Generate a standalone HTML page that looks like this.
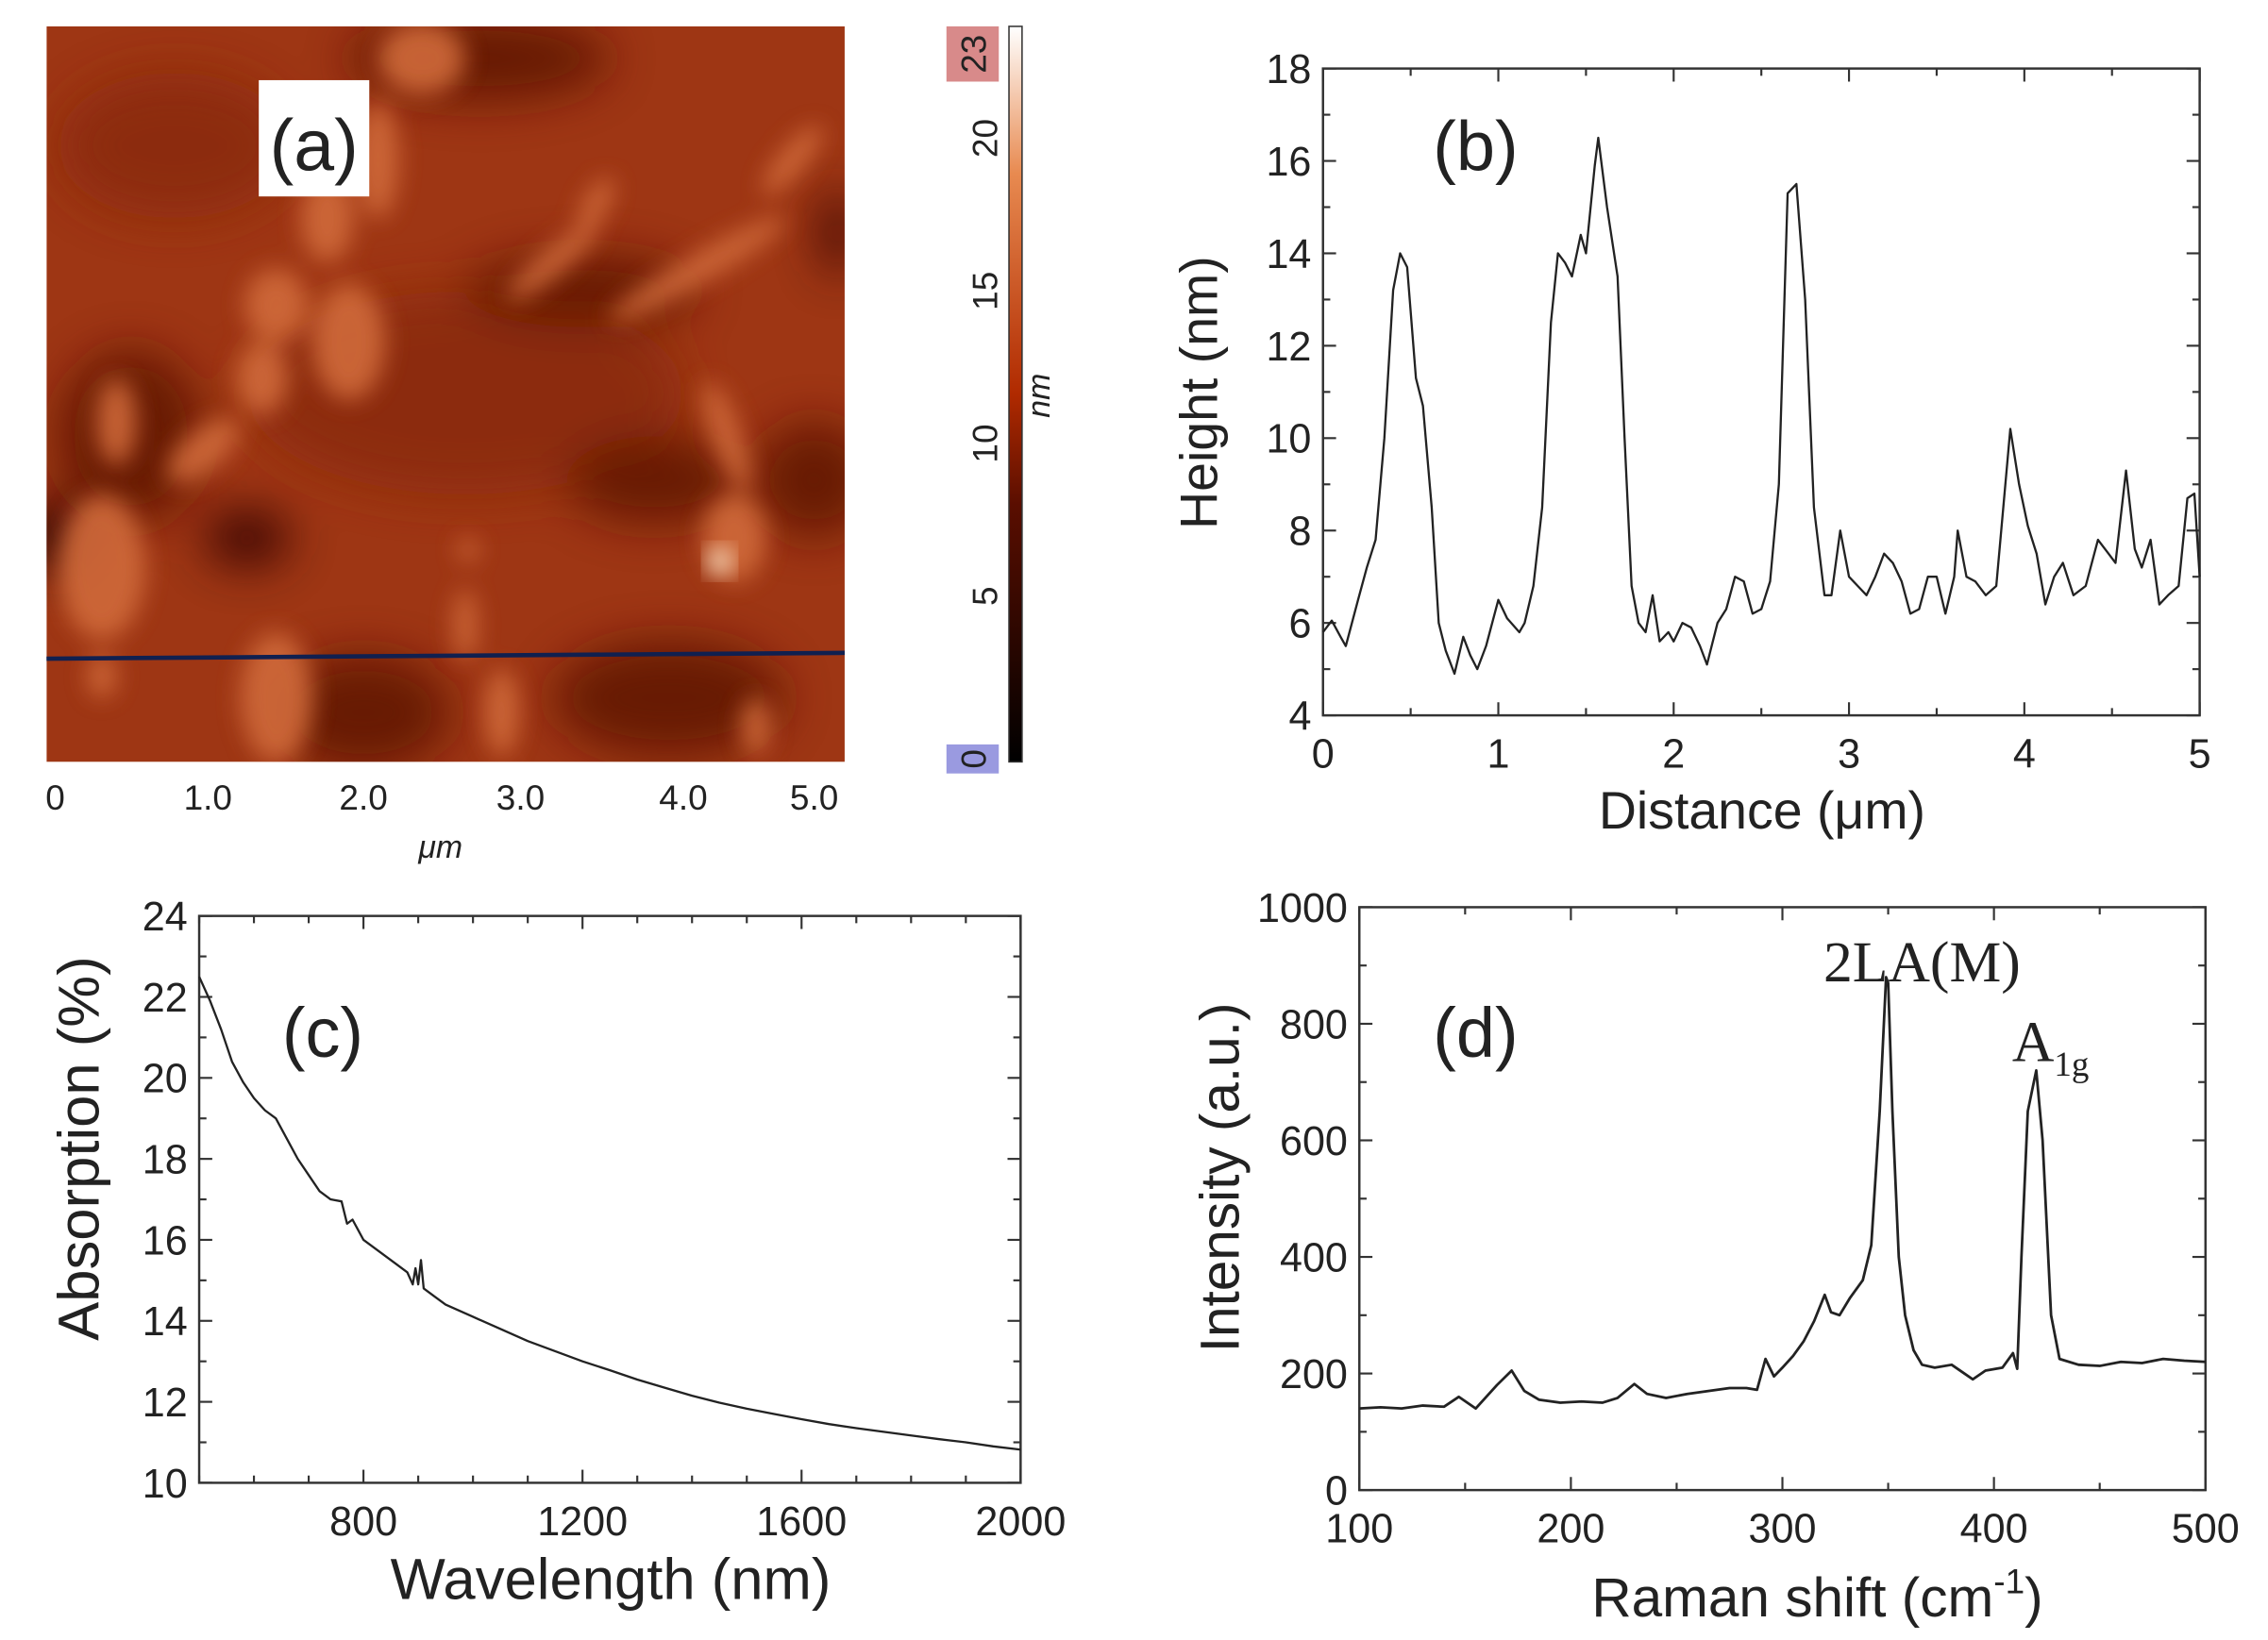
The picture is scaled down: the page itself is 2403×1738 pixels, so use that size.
<!DOCTYPE html>
<html><head><meta charset="utf-8">
<style>
html,body{margin:0;padding:0;background:#fff;}
svg{display:block;}
text{font-family:"Liberation Sans",sans-serif;fill:#222;}
</style></head>
<body>
<svg id="fig" width="2403" height="1738" viewBox="0 0 1560 1128" xmlns="http://www.w3.org/2000/svg">
<defs>
<filter id="blur6" x="-30%" y="-30%" width="160%" height="160%"><feGaussianBlur stdDeviation="8"/></filter>
<filter id="blur12" x="-30%" y="-30%" width="160%" height="160%"><feGaussianBlur stdDeviation="16"/></filter>
<linearGradient id="cbar" x1="0" y1="1" x2="0" y2="0">
<stop offset="0" stop-color="#000"/><stop offset="0.35" stop-color="#5a0e00"/><stop offset="0.5" stop-color="#b02a00"/><stop offset="0.8" stop-color="#e88a50"/><stop offset="1" stop-color="#fff"/>
</linearGradient>
<clipPath id="afmclip"><rect x="32" y="18" width="549" height="506"/></clipPath>
</defs>

<g>
<g clip-path="url(#afmclip)">
<rect x="32" y="18" width="549" height="506" fill="#9e3614"/>
<g filter="url(#blur12)" fill="#5e1404" opacity="0.85">
<ellipse cx="330" cy="40" rx="90" ry="30"/><ellipse cx="320" cy="270" rx="150" ry="70" fill="#8a2c0c"/>
<ellipse cx="90" cy="300" rx="50" ry="60"/><ellipse cx="40" cy="370" rx="25" ry="25" fill="#200000"/>
<ellipse cx="170" cy="370" rx="30" ry="20" fill="#300500"/><ellipse cx="450" cy="330" rx="60" ry="30"/>
<ellipse cx="560" cy="330" rx="40" ry="40"/><ellipse cx="250" cy="490" rx="60" ry="40"/>
<ellipse cx="460" cy="480" rx="80" ry="40"/><ellipse cx="400" cy="200" rx="80" ry="25"/>
<ellipse cx="576" cy="160" rx="12" ry="30" fill="#300500"/>
<ellipse cx="120" cy="100" rx="80" ry="50" fill="#8a2c0c"/>
</g>
<g filter="url(#blur6)" fill="#d06a3a" opacity="0.9">
<ellipse cx="290" cy="40" rx="30" ry="25"/><ellipse cx="260" cy="110" rx="14" ry="40"/>
<ellipse cx="225" cy="150" rx="18" ry="30"/><ellipse cx="190" cy="210" rx="22" ry="25"/>
<ellipse cx="240" cy="235" rx="25" ry="40"/><ellipse cx="180" cy="260" rx="18" ry="25"/>
<ellipse cx="140" cy="310" rx="30" ry="14" transform="rotate(-40 140 310)"/>
<ellipse cx="80" cy="290" rx="14" ry="30"/><ellipse cx="70" cy="390" rx="30" ry="50"/>
<ellipse cx="380" cy="180" rx="40" ry="9" transform="rotate(-40 380 180)"/>
<ellipse cx="410" cy="140" rx="8" ry="20" transform="rotate(30 410 140)"/>
<ellipse cx="480" cy="185" rx="70" ry="10" transform="rotate(-30 480 185)"/>
<ellipse cx="545" cy="110" rx="30" ry="9" transform="rotate(-50 545 110)"/>
<ellipse cx="500" cy="300" rx="10" ry="40" transform="rotate(-20 500 300)"/>
<ellipse cx="505" cy="370" rx="22" ry="30"/><ellipse cx="320" cy="430" rx="8" ry="25"/>
<ellipse cx="190" cy="480" rx="25" ry="45"/><ellipse cx="345" cy="490" rx="12" ry="30"/>
<ellipse cx="520" cy="500" rx="10" ry="20"/><ellipse cx="70" cy="465" rx="10" ry="15"/>
<ellipse cx="322" cy="378" rx="7" ry="8"/>
</g>
<ellipse cx="495" cy="386" rx="8" ry="9" fill="#fff2d8" filter="url(#blur6)"/>
</g>
<line x1="32" y1="453" x2="581" y2="449" stroke="#102050" stroke-width="3"/>
<rect x="178" y="55" width="76" height="80" fill="#fff"/>
<text x="216" y="117" font-size="50" text-anchor="middle">(a)</text>
<g font-size="24">
<text x="38" y="557" text-anchor="middle">0</text><text x="143" y="557" text-anchor="middle">1.0</text>
<text x="250" y="557" text-anchor="middle">2.0</text><text x="358" y="557" text-anchor="middle">3.0</text>
<text x="470" y="557" text-anchor="middle">4.0</text><text x="560" y="557" text-anchor="middle">5.0</text>
</g>
<text x="303" y="590" font-size="22" font-style="italic" text-anchor="middle">μm</text>
<rect x="694" y="18" width="9" height="506" fill="url(#cbar)" stroke="#333" stroke-width="1"/>
<rect x="651" y="18" width="36" height="38" fill="#d88a8a"/>
<rect x="651" y="512" width="36" height="20" fill="#9a9ae0"/>
<g font-size="24">
<text transform="translate(678,37) rotate(-90)" text-anchor="middle" fill="#fff">23</text>
<text transform="translate(678,522) rotate(-90)" text-anchor="middle" fill="#fff">0</text>
<text transform="translate(686,95) rotate(-90)" text-anchor="middle">20</text>
<text transform="translate(686,200) rotate(-90)" text-anchor="middle">15</text>
<text transform="translate(686,305) rotate(-90)" text-anchor="middle">10</text>
<text transform="translate(686,410) rotate(-90)" text-anchor="middle">5</text>
</g>
<text transform="translate(722,272) rotate(-90)" font-size="22" font-style="italic" text-anchor="middle">nm</text>
</g>

<g id="pb"></g>
<g id="pc"></g>
<g id="pd"></g>
</svg>

<script>
const bX = [0,0.05,0.1,0.13,0.2,0.25,0.3,0.35,0.4,0.44,0.48,0.53,0.57,0.62,0.66,0.7,0.75,0.8,0.84,0.88,0.93,1.0,1.05,1.12,1.15,1.2,1.25,1.3,1.34,1.38,1.42,1.47,1.5,1.55,1.57,1.62,1.68,1.72,1.76,1.8,1.84,1.88,1.92,1.97,2.0,2.05,2.1,2.15,2.19,2.25,2.3,2.35,2.4,2.45,2.5,2.55,2.6,2.65,2.7,2.75,2.8,2.86,2.9,2.95,3.0,3.05,3.1,3.15,3.2,3.25,3.3,3.35,3.4,3.45,3.5,3.55,3.6,3.62,3.67,3.72,3.78,3.84,3.88,3.92,3.97,4.02,4.07,4.12,4.17,4.22,4.28,4.35,4.42,4.48,4.52,4.58,4.63,4.67,4.72,4.77,4.82,4.88,4.93,4.97,5.0];
const bY = [5.8,6.05,5.7,5.5,6.5,7.2,7.8,10,13.2,14,13.7,11.3,10.7,8.5,6.0,5.4,4.9,5.7,5.3,5.0,5.5,6.5,6.1,5.8,6.0,6.8,8.5,12.5,14.0,13.8,13.5,14.4,14.0,15.9,16.5,15,13.5,10,6.8,6.0,5.8,6.6,5.6,5.8,5.6,6.0,5.9,5.5,5.1,6.0,6.3,7.0,6.9,6.2,6.3,6.9,9,15.3,15.5,13,8.5,6.6,6.6,8.0,7.0,6.8,6.6,7.0,7.5,7.3,6.9,6.2,6.3,7.0,7.0,6.2,7.0,8.0,7.0,6.9,6.6,6.8,8.5,10.2,9.0,8.1,7.5,6.4,7.0,7.3,6.6,6.8,7.8,7.5,7.3,9.3,7.6,7.2,7.8,6.4,6.6,6.8,8.7,8.8,7.0];
const bXTicks = [0,1,2,3,4,5];
const bYTicks = [4,6,8,10,12,14,16,18];
const cX = [500,520,540,560,580,600,620,640,660,680,700,720,740,760,770,780,800,830,860,880,890,895,900,905,910,930,950,1000,1050,1100,1150,1200,1250,1300,1350,1400,1450,1500,1550,1600,1650,1700,1750,1800,1850,1900,1950,2000];
const cY = [22.5,21.9,21.2,20.4,19.9,19.5,19.2,19.0,18.5,18.0,17.6,17.2,17.0,16.95,16.4,16.5,16.0,15.7,15.4,15.2,14.9,15.3,14.9,15.5,14.8,14.6,14.4,14.1,13.8,13.5,13.25,13.0,12.78,12.55,12.35,12.15,11.98,11.83,11.7,11.57,11.45,11.35,11.26,11.17,11.08,11.0,10.9,10.82];
const cXTicks = [800,1200,1600,2000];
const cYTicks = [10,12,14,16,18,20,22,24];
const dX = [100,110,120,130,140,147,155,160,165,172,178,185,195,205,215,222,230,236,245,255,265,275,283,288,292,296,300,305,310,315,320,323,327,332,338,342,346,349,350,352,355,358,362,366,372,380,386,390,396,404,409,411,413,416,420,423,427,431,440,450,460,470,480,490,500];
const dY = [140,142,140,145,143,160,140,160,180,205,170,155,150,152,150,158,182,165,158,165,170,175,175,172,225,195,210,230,255,290,335,305,300,330,360,420,650,880,870,650,400,300,240,215,210,215,200,190,205,210,235,208,400,650,720,600,300,225,215,213,220,218,225,222,220];
const dXTicks = [100,200,300,400,500];
const dYTicks = [0,200,400,600,800,1000];

const NS = 'http://www.w3.org/2000/svg';
function mk(parent, tag, attrs, txt){
  const e = document.createElementNS(NS, tag);
  for (const k in attrs) e.setAttribute(k, attrs[k]);
  if (txt !== undefined) e.textContent = txt;
  parent.appendChild(e); return e;
}
function chart(gid, box, xr, yr, xs, ys, xt, yt, xminor, yminor, tickFont, lineW){
  const g = document.getElementById(gid);
  const sx = v => box.x0 + (v - xr[0]) / (xr[1] - xr[0]) * (box.x1 - box.x0);
  const sy = v => box.y1 - (v - yr[0]) / (yr[1] - yr[0]) * (box.y1 - box.y0);
  const frame = mk(g, 'rect', {x:box.x0, y:box.y0, width:box.x1-box.x0, height:box.y1-box.y0, fill:'none', stroke:'#333', 'stroke-width':1.6});
  
  
  for (let v = xr[0]; v <= xr[1] + 1e-9; v += xminor){
    const major = xt.some(t => Math.abs(t - v) < 1e-6);
    const L = major ? 9 : 5, X = sx(v);
    mk(g,'line',{x1:X,y1:box.y1,x2:X,y2:box.y1-L,stroke:'#333','stroke-width':1.4});
    mk(g,'line',{x1:X,y1:box.y0,x2:X,y2:box.y0+L,stroke:'#333','stroke-width':1.4});
  }
  for (let v = yr[0]; v <= yr[1] + 1e-9; v += yminor){
    const major = yt.some(t => Math.abs(t - v) < 1e-6);
    const L = major ? 9 : 5, Y = sy(v);
    mk(g,'line',{x1:box.x0,y1:Y,x2:box.x0+L,y2:Y,stroke:'#333','stroke-width':1.4});
    mk(g,'line',{x1:box.x1,y1:Y,x2:box.x1-L,y2:Y,stroke:'#333','stroke-width':1.4});
  }
  xt.forEach(t => {
    const e = mk(g,'text',{x:sx(t), y:box.y1+36, 'font-size':tickFont, 'text-anchor':'middle'}, String(t));
    
    
  });
  yt.forEach(t => {
    const e = mk(g,'text',{x:box.x0-8, y:sy(t)+10, 'font-size':tickFont, 'text-anchor':'end'}, String(t));
    
    
  });
  const d = xs.map((v,i) => (i ? 'L' : 'M') + sx(v).toFixed(2) + ' ' + sy(ys[i]).toFixed(2)).join(' ');
  const p = mk(g,'path',{d:d, fill:'none', stroke:'#222', 'stroke-width':lineW, 'stroke-linejoin':'round'});
  
  
  return g;
}
function label(g, attrs, txt, name){
  const e = mk(g, 'text', attrs, txt);
  
  
  return e;
}

const gb = chart('pb', {x0:910,x1:1513,y0:47,y1:492}, [0,5], [4,18], bX, bY, bXTicks, bYTicks, 0.5, 1, 28, 1.5);
label(gb, {transform:'translate(837,270) rotate(-90)', 'font-size':36, 'text-anchor':'middle'}, 'Height (nm)', 'y-axis-title');
label(gb, {x:1212, y:570, 'font-size':36, 'text-anchor':'middle'}, 'Distance (μm)', 'x-axis-title');
label(gb, {x:1015, y:117, 'font-size':48, 'text-anchor':'middle'}, '(b)', 'panel-b-label');

const gc = chart('pc', {x0:137,x1:702,y0:630,y1:1020}, [500,2000], [10,24], cX, cY, cXTicks, cYTicks, 100, 1, 28, 1.5);
label(gc, {transform:'translate(68,790) rotate(-90)', 'font-size':40, 'text-anchor':'middle'}, 'Absorption (%)', 'y-axis-title');
label(gc, {x:420, y:1100, 'font-size':40, 'text-anchor':'middle'}, 'Wavelength (nm)', 'x-axis-title');
label(gc, {x:222, y:727, 'font-size':48, 'text-anchor':'middle'}, '(c)', 'panel-c-label');

const gd = chart('pd', {x0:935,x1:1517,y0:624,y1:1025}, [100,500], [0,1000], dX, dY, dXTicks, dYTicks, 50, 100, 28, 1.8);
label(gd, {transform:'translate(852,810) rotate(-90)', 'font-size':38, 'text-anchor':'middle'}, 'Intensity (a.u.)', 'y-axis-title');
const xt = label(gd, {x:1250, y:1112, 'font-size':38, 'text-anchor':'middle'}, 'Raman shift (cm', 'x-axis-title');
mk(xt, 'tspan', {dy:-16, 'font-size':24}, '-1');
mk(xt, 'tspan', {dy:16}, ')');
label(gd, {x:1015, y:727, 'font-size':48, 'text-anchor':'middle'}, '(d)', 'panel-d-label');
label(gd, {x:1322, y:675, 'font-size':40, 'text-anchor':'middle', style:'font-family:"Liberation Serif",serif'}, '2LA(M)', 'peak-label-2la');
const pk2 = label(gd, {x:1384, y:730, 'font-size':40, style:'font-family:"Liberation Serif",serif'}, 'A', 'peak-label-a1g');
mk(pk2, 'tspan', {dy:10, 'font-size':24}, '1g');
</script>
</body></html>
